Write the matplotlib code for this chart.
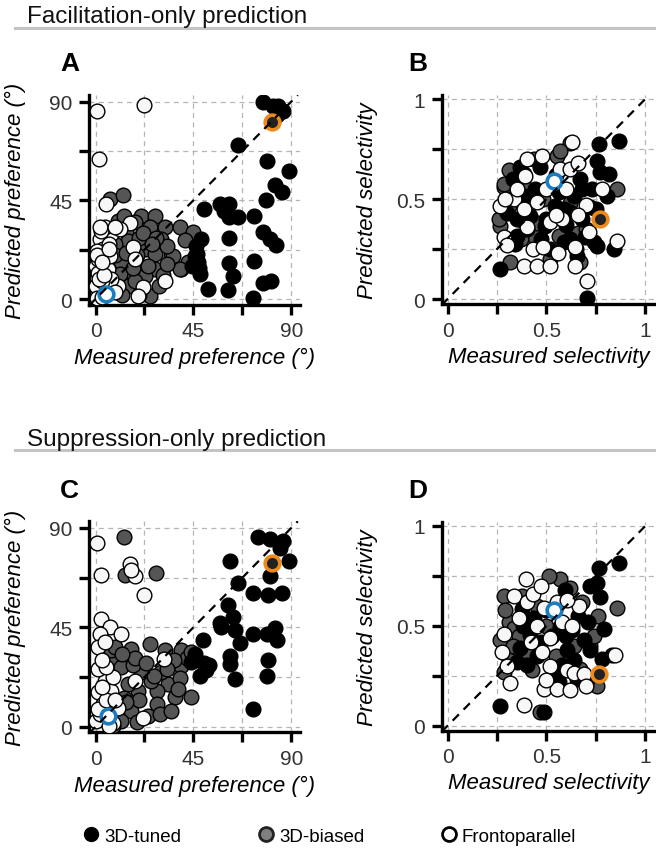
import numpy as np
import matplotlib
matplotlib.use('Agg')
import matplotlib.pyplot as plt
from matplotlib.lines import Line2D

# panel A: facilitation-only, preference (deg)
a_tuned_x = [77, 81.5, 86, 84, 65.5, 79, 89, 82.5, 85.5, 78.5, 50, 57, 61.5, 59, 61.5, 65.5, 73, 77, 80, 83,
             48.5, 61.5, 46.5, 45.5, 47.5, 44.5, 61.5, 73, 48, 63, 51.5, 61, 77, 80.5, 72.5, 83.5, 47, 46]
a_tuned_y = [90, 88, 85.5, 88, 70, 63, 58.5, 52, 49, 45, 41, 43.5, 43.5, 40, 37.5, 37.5, 38, 30.5, 27.5, 24.5,
             27.5, 28, 20.5, 19.5, 14, 15, 16.5, 17.5, 11.5, 10.5, 4.5, 4, 7.5, 8, 0.5, 84, 17, 24]
a_biased_x = [6.6, 12.7, 21.1, 27.3, 10.4, 24.9, 31.8, 38.7, 44.8, 14.2, 15, 8.9, 23.4, 27.2, 34.9, 11.9, 39.5,
              42.5, 27.2, 22.6, 16.5, 15, 24.9, 11.2, 30.3, 20, 35.7, 38.7, 12, 18, 9, 13, 33,
              18, 22, 28, 19, 24, 31, 20, 14, 26, 33, 41, 17, 29]
a_biased_y = [45.7, 47.2, 38, 38, 35.5, 32.7, 32.7, 32.7, 30.4, 31.2, 26.6, 25.1, 22.8, 20.5, 19.8, 16.7, 13.7,
              16.7, 13.7, 10.7, 12.2, 6.1, 1.5, 11.4, 27.4, 28, 19.8, 13.7, 2, 8, 20, 38, 24,
              35, 30, 28, 20, 15, 11, 2, 21, 25, 16, 27, 14, 6]
a_fronto_x = [0.9, 22.4, 1.5, 4.7, 15.7, 7.3, 2, 11.2, 3.5, 17.3, 18.1, 0.4, 5.8, 31.8, 21.9, 19.6, 0.4, 10.4,
              7.3, 1.2, 6.6, 4.3, 1, 3, 0.5, 2.5, 6, 9, 2,
              0.5, 3, 1.5, 4, 0.5, 3, 6, 2, 9]
a_fronto_y = [85.5, 88.6, 64, 43.4, 34.8, 29.7, 27.4, 31.9, 22.8, 23.6, 18.2, 15.2, 13.7, 8.4, 5.3, 1.5, 6.1,
              6.1, 9.1, 18.3, 19.8, 32.7, 12, 8, 22, 31, 25, 3, 0.5,
              0.5, 1, 9, 11, 20, 17, 23, 33, 33]

# panel B: facilitation-only, selectivity
b_tuned_x = [0.865, 0.764, 0.755, 0.772, 0.814, 0.671, 0.637, 0.561, 0.545, 0.62, 0.68, 0.385, 0.368, 0.469,
             0.385, 0.35, 0.418, 0.494, 0.35, 0.342, 0.587, 0.654, 0.697, 0.739, 0.755, 0.84, 0.266, 0.705,
             0.806, 0.59, 0.52, 0.47, 0.73, 0.68, 0.30, 0.60, 0.55, 0.72,
             0.44, 0.50, 0.62, 0.40, 0.75, 0.33]
b_tuned_y = [0.79, 0.775, 0.69, 0.633, 0.625, 0.60, 0.517, 0.533, 0.467, 0.433, 0.40, 0.625, 0.66, 0.658,
             0.517, 0.40, 0.417, 0.367, 0.317, 0.275, 0.283, 0.217, 0.308, 0.283, 0.267, 0.25, 0.15, 0.005,
             0.517, 0.45, 0.25, 0.30, 0.55, 0.55, 0.43, 0.37, 0.62, 0.46,
             0.55, 0.40, 0.30, 0.35, 0.45, 0.60]
b_biased_x = [0.309, 0.283, 0.62, 0.553, 0.435, 0.857, 0.309, 0.266, 0.317, 0.435, 0.561, 0.671, 0.52, 0.66,
              0.283, 0.40, 0.48, 0.65, 0.30, 0.57, 0.37, 0.45, 0.62, 0.70, 0.26]
b_biased_y = [0.643, 0.56, 0.78, 0.717, 0.70, 0.55, 0.467, 0.367, 0.183, 0.317, 0.317, 0.183, 0.2, 0.33,
              0.575, 0.55, 0.50, 0.25, 0.30, 0.742, 0.30, 0.38, 0.48, 0.35, 0.40]
b_fronto_x = [0.478, 0.628, 0.57, 0.393, 0.62, 0.266, 0.334, 0.385, 0.45, 0.52, 0.401, 0.283, 0.385, 0.45,
              0.52, 0.646, 0.646, 0.713, 0.857, 0.705, 0.291, 0.58, 0.50, 0.70, 0.43, 0.35, 0.60, 0.66, 0.56,
              0.30, 0.48, 0.55, 0.66, 0.40, 0.78]
b_fronto_y = [0.717, 0.783, 0.65, 0.617, 0.65, 0.467, 0.50, 0.45, 0.483, 0.383, 0.358, 0.308, 0.167, 0.165,
              0.167, 0.167, 0.258, 0.333, 0.292, 0.09, 0.5, 0.40, 0.55, 0.47, 0.25, 0.55, 0.55, 0.42, 0.23,
              0.27, 0.26, 0.42, 0.68, 0.70, 0.55]

# panel C: suppression-only, preference (deg)
c_tuned_x = [74.7, 80.1, 86.2, 84.7, 89, 61.7, 80.1, 65.5, 72.4, 79.3, 85.5, 61, 63.3, 57.9, 64, 66.3, 72.4,
             78.6, 82.4, 83.2, 49.5, 46.4, 44, 51, 47.9, 61.7, 64, 79.3, 78.6, 72.4, 62, 50, 45.5, 52, 57]
c_tuned_y = [85.7, 85, 84.2, 81, 75, 75, 68.2, 65.1, 60.5, 59.8, 60.5, 55.2, 49.8, 45.3, 43.8, 37.7, 42.2,
             42.2, 44.5, 39.2, 39.2, 30, 29.2, 25.5, 23.2, 28.5, 21.6, 30, 23.2, 7.9, 32, 29, 33, 28, 47]
c_biased_x = [13, 13.5, 27.6, 16.5, 24.9, 31.8, 39.5, 39.5, 33.4, 44.1, 36.4, 28.1, 25.7, 21.1, 9.6, 11.9, 7.3,
              16.5, 28.1, 24.2, 11.9, 19.6, 15, 29.5, 34.9, 42, 44, 39, 20, 13, 17, 8, 30, 36,
              18, 23, 27, 33, 38, 14, 19, 9, 12]
c_biased_y = [85.7, 68.6, 69.7, 35.3, 37.6, 34.6, 34.6, 27.7, 19.3, 13.3, 13.3, 16.3, 20.9, 24.6, 30, 27, 34.6,
              7.2, 10.2, 4.9, 2.6, 16.3, 19.3, 5.6, 7.2, 31, 34, 22, 12, 13, 28, 0.5, 25, 30,
              31, 29, 23, 26, 17, 11, 2, 36, 33]
c_fronto_x = [0.9, 2.5, 15.8, 18, 22.4, 2.3, 6.6, 11.9, 2, 1.2, 4.3, 31.4, 18.1, 4.3, 1.2, 7.3, 3.5, 21.9, 0.4,
              10.4, 8.1, 1, 5, 2, 8, 16.5, 3, 1, 5, 3, 9, 6]
c_fronto_y = [83, 68.9, 73.5, 68.2, 59.5, 48.8, 45.3, 42.2, 42.2, 36.1, 38.3, 30.8, 20.9, 20.9, 15.6, 16.3,
              10.3, 4.1, 2.6, 8.7, 22.4, 26, 27, 6, 1.5, 71, 30, 8, 12, 18, 12, 0.5]

# panel D: suppression-only, selectivity
d_tuned_x = [0.865, 0.764, 0.755, 0.722, 0.772, 0.595, 0.435, 0.376, 0.57, 0.63, 0.688, 0.604, 0.722, 0.789,
             0.418, 0.368, 0.35, 0.401, 0.578, 0.654, 0.561, 0.705, 0.266, 0.486, 0.83, 0.78, 0.50, 0.53, 0.66,
             0.47, 0.64, 0.45, 0.60, 0.71, 0.38, 0.56]
d_tuned_y = [0.814, 0.789, 0.713, 0.698, 0.646, 0.68, 0.537, 0.586, 0.495, 0.48, 0.429, 0.38, 0.38, 0.486,
             0.454, 0.387, 0.32, 0.303, 0.303, 0.236, 0.218, 0.228, 0.10, 0.067, 0.355, 0.335, 0.58, 0.45, 0.55,
             0.42, 0.33, 0.35, 0.45, 0.52, 0.50, 0.26]
d_biased_x = [0.283, 0.376, 0.57, 0.511, 0.62, 0.857, 0.309, 0.334, 0.266, 0.401, 0.426, 0.671, 0.755, 0.722,
              0.739, 0.283, 0.469, 0.45, 0.36, 0.55, 0.68, 0.31, 0.33, 0.50, 0.64, 0.76, 0.29]
d_biased_y = [0.65, 0.65, 0.734, 0.75, 0.688, 0.587, 0.52, 0.49, 0.43, 0.37, 0.278, 0.285, 0.2, 0.40, 0.45,
              0.27, 0.067, 0.60, 0.45, 0.35, 0.62, 0.33, 0.40, 0.50, 0.40, 0.55, 0.58]
d_fronto_x = [0.396, 0.334, 0.40, 0.486, 0.553, 0.663, 0.283, 0.274, 0.477, 0.519, 0.317, 0.384, 0.486, 0.553,
              0.62, 0.604, 0.637, 0.848, 0.604, 0.45, 0.58, 0.52, 0.69, 0.43, 0.36,
              0.42, 0.30, 0.70, 0.50, 0.63, 0.47]
d_fronto_y = [0.737, 0.65, 0.62, 0.59, 0.62, 0.60, 0.46, 0.37, 0.37, 0.44, 0.215, 0.105, 0.185, 0.185, 0.18,
              0.28, 0.265, 0.355, 0.63, 0.50, 0.52, 0.30, 0.26, 0.66, 0.54,
              0.42, 0.30, 0.20, 0.23, 0.50, 0.70]

# example cells (blue = frontoparallel example, orange = 3D-tuned example)
blue_pts = [(5, 2.3), (0.536, 0.59), (5.8, 5.1), (0.536, 0.579)]
orange_pts = [(81.3, 80.7), (0.772, 0.40), (80.9, 74.3), (0.764, 0.26)]

legend_labels = ['3D-tuned', '3D-biased', 'Frontoparallel']
panel_letters = ['A', 'B', 'C', 'D']
section_titles = ['Facilitation-only prediction', 'Suppression-only prediction']

NARROW = ['Liberation Sans Narrow', 'Liberation Sans', 'DejaVu Sans']
SANS = ['Liberation Sans', 'DejaVu Sans']
W, H = 656, 853
C_TUNED = '#000000'
C_BIASED = '#555555'
C_FRONTO = '#f7f7f7'
C_BLUE = '#1a7dc0'
C_ORANGE = '#ec8a1c'
MS = 112


def style_axes(ax, deg):
    if deg:
        ticks = [0, 22.5, 45, 67.5, 90]
        labels = ['0', '', '45', '', '90']
        ax.set_xlim(-3, 94)
        ax.set_ylim(-2.5, 93)
        lo, hi = -3, 93
    else:
        ticks = [0, 0.25, 0.5, 0.75, 1]
        labels = ['0', '', '0.5', '', '1']
        ax.set_xlim(-0.03, 1.05)
        ax.set_ylim(-0.025, 1.02)
        lo, hi = -0.03, 1.02
    ax.set_xticks(ticks)
    ax.set_yticks(ticks)
    ax.set_xticklabels(labels, fontfamily=NARROW, fontsize=15, color='#333333')
    ax.set_yticklabels(labels, fontfamily=NARROW, fontsize=15, color='#333333')
    ax.tick_params(length=7, width=2.4, direction='out', pad=5)
    for s in ['top', 'right']:
        ax.spines[s].set_visible(False)
    for s in ['left', 'bottom']:
        ax.spines[s].set_linewidth(2.4)
    ax.grid(True, color='#b5b5b5', linestyle=(0, (4, 3.5)), linewidth=0.9)
    ax.set_axisbelow(True)
    # identity line on top of the points
    ax.plot([lo, hi], [lo, hi], color='black', linestyle=(0, (4, 3)), linewidth=1.6, zorder=10)
    if deg:
        ax.set_xlabel('Measured preference (°)', fontfamily=SANS, style='italic', fontsize=16)
        ax.set_ylabel('Predicted preference (°)', fontfamily=SANS, style='italic', fontsize=16)
    else:
        ax.set_xlabel('Measured selectivity', fontfamily=SANS, style='italic', fontsize=16)
        ax.set_ylabel('Predicted selectivity', fontfamily=SANS, style='italic', fontsize=16)
    ax.xaxis.set_label_coords(0.5, -0.2)
    ax.yaxis.set_label_coords(-0.3, 0.5)


#z order per group: preference panels put tuned on top, selectivity panels put frontoparallel on top
def draw(ax, tx, ty, bx, by, fx, fy, blue, orange, deg):
    if deg:
        zb, zf, zt = 3, 4, 5
    else:
        zb, zt, zf = 3, 4, 5
    ax.scatter(bx, by, s=MS, c=C_BIASED, edgecolors='black', linewidths=1.0, zorder=zb)
    ax.scatter(fx, fy, s=MS, c=C_FRONTO, edgecolors='black', linewidths=1.0, zorder=zf)
    ax.scatter(tx, ty, s=MS, c=C_TUNED, edgecolors='black', linewidths=1.0, zorder=zt)
    ax.scatter([blue[0]], [blue[1]], s=MS, c='white', edgecolors=C_BLUE, linewidths=2.6, zorder=6)
    ax.scatter([orange[0]], [orange[1]], s=MS, c='#222222', edgecolors=C_ORANGE, linewidths=2.6, zorder=6)


fig = plt.figure(figsize=(W / 100, H / 100), dpi=100)

# axes boxes in pixels: left, top, width, height
boxes = [(89, 96, 211, 209.5), (441.7, 96, 213.5, 209), (89, 522.3, 211, 211), (441.7, 523, 213.5, 208.7)]
axs = []
for (l, t, w, h) in boxes:
    axs.append(fig.add_axes([l / W, 1 - (t + h) / H, w / W, h / H]))

draw(axs[0], a_tuned_x, a_tuned_y, a_biased_x, a_biased_y, a_fronto_x, a_fronto_y, blue_pts[0], orange_pts[0], True)
draw(axs[1], b_tuned_x, b_tuned_y, b_biased_x, b_biased_y, b_fronto_x, b_fronto_y, blue_pts[1], orange_pts[1], False)
draw(axs[2], c_tuned_x, c_tuned_y, c_biased_x, c_biased_y, c_fronto_x, c_fronto_y, blue_pts[2], orange_pts[2], True)
draw(axs[3], d_tuned_x, d_tuned_y, d_biased_x, d_biased_y, d_fronto_x, d_fronto_y, blue_pts[3], orange_pts[3], False)
style_axes(axs[0], True)
style_axes(axs[1], False)
style_axes(axs[2], True)
style_axes(axs[3], False)

#panel letters
letter_pos = [(60, 71), (408, 71), (60, 498), (408, 498)]
for i in range(4):
    fig.text(letter_pos[i][0] / W, 1 - letter_pos[i][1] / H, panel_letters[i], fontfamily=SANS,
             fontweight='bold', fontsize=19, va='baseline', ha='left')

#section titles with gray rule underneath
title_base = [22.5, 446.5]
rule_y = [28.5, 451]
for i in range(2):
    fig.text(27 / W, 1 - title_base[i] / H, section_titles[i], fontfamily=SANS, fontsize=17.5,
             va='baseline', ha='left', color='#111111')
    fig.add_artist(Line2D([15 / W, 1.0], [1 - rule_y[i] / H, 1 - rule_y[i] / H], color='#c4c4c4',
                          linewidth=2.2))

#legend
handles = [Line2D([], [], linestyle='none', marker='o', markersize=10, markerfacecolor=C_TUNED,
                  markeredgecolor='black', markeredgewidth=1),
           Line2D([], [], linestyle='none', marker='o', markersize=10, markerfacecolor='#808080',
                  markeredgecolor='#222222', markeredgewidth=2),
           Line2D([], [], linestyle='none', marker='o', markersize=10, markerfacecolor='white',
                  markeredgecolor='black', markeredgewidth=2)]
fig.legend(handles, legend_labels, loc='center', bbox_to_anchor=(0.5, 1 - 837 / H), ncol=3, frameon=False,
           prop={'family': NARROW, 'size': 13.5}, handletextpad=0.1, columnspacing=3.9, handlelength=1.2)

fig.savefig('out.png', dpi=100)
